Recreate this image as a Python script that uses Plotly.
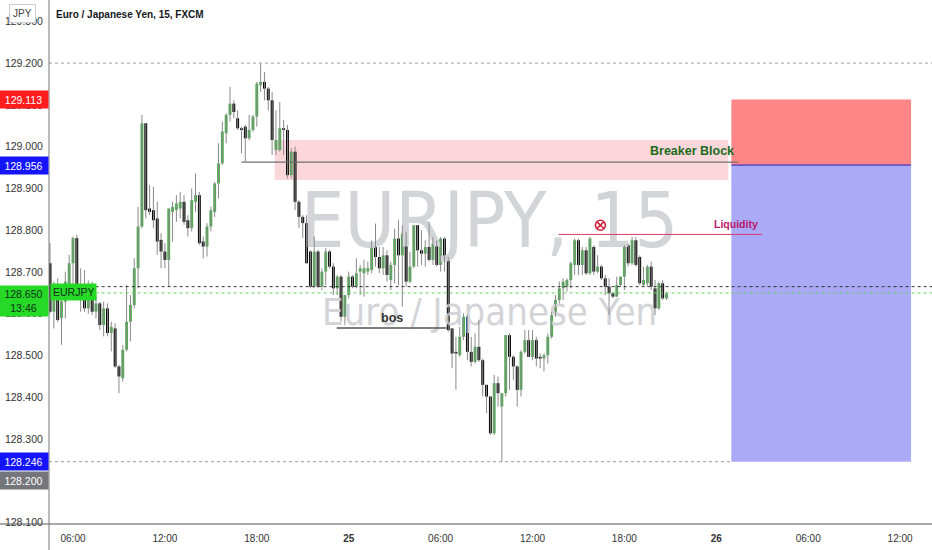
import pandas as pd
import plotly.graph_objects as go

# ---------------- data (EURJPY, 15 min, FXCM) ----------------
start_time = "2021-02-24 04:30"
opens = [128.721,128.605,128.653,128.590,128.629,128.669,128.721,128.781,128.669,128.669,
         128.613,128.669,128.605,128.625,128.573,128.613,128.554,128.565,128.474,128.446,
         128.514,128.581,128.621,128.709,128.809,129.056,128.852,128.848,128.828,128.777,
         128.749,128.729,128.844,128.848,128.852,128.868,128.824,128.805,128.868,128.884,
         128.773,128.761,128.809,128.844,128.912,128.960,129.032,129.076,129.103,129.068,
         129.044,129.048,129.020,129.040,129.072,129.147,129.155,129.139,129.111,128.992,
         128.992,129.044,129.040,128.932,128.988,128.868,128.832,128.817,128.749,128.665,
         128.749,128.665,128.701,128.749,128.713,128.661,128.689,128.593,128.645,128.689,
         128.665,128.701,128.697,128.701,128.705,128.764,128.736,128.709,128.740,128.681,
         128.717,128.780,128.740,128.792,128.677,128.713,128.812,128.752,128.744,128.760,
         128.729,128.768,128.717,128.780,128.733,128.565,128.509,128.501,128.545,128.593,
         128.509,128.485,128.521,128.489,128.430,128.402,128.314,128.434,128.378,128.410,
         128.549,128.497,128.474,128.418,128.509,128.537,128.497,128.537,128.497,128.493,
         128.501,128.545,128.597,128.633,128.661,128.665,128.681,128.717,128.776,128.717,
         128.752,128.697,128.760,128.701,128.713,128.685,128.665,128.649,128.641,128.669,
         128.689,128.764,128.721,128.776,128.736,128.669,128.673,128.713,128.661,128.613,
         128.673,128.637]
highs = [128.769,128.677,128.685,128.669,128.701,128.741,128.785,128.789,128.709,128.705,
         128.680,128.677,128.645,128.629,128.629,128.625,128.581,128.577,128.478,128.526,
         128.669,128.645,128.733,128.856,129.076,129.056,128.908,128.904,128.868,128.793,
         128.769,128.852,128.868,128.884,128.892,128.884,128.836,128.900,128.936,128.892,
         128.785,128.817,128.856,128.916,129.008,129.060,129.080,129.143,129.111,129.087,
         129.048,129.052,129.076,129.076,129.155,129.199,129.179,129.143,129.131,129.087,
         129.107,129.064,129.052,128.996,129.000,128.872,128.836,128.836,128.753,128.785,
         128.753,128.709,128.757,128.753,128.721,128.693,128.693,128.645,128.701,128.693,
         128.733,128.717,128.729,128.725,128.776,128.816,128.760,128.760,128.752,128.725,
         128.804,128.824,128.812,128.796,128.748,128.812,128.812,128.800,128.776,128.820,
         128.784,128.776,128.784,128.784,128.736,128.565,128.545,128.569,128.601,128.597,
         128.545,128.553,128.585,128.493,128.430,128.402,128.454,128.450,128.410,128.549,
         128.553,128.501,128.477,128.513,128.561,128.561,128.561,128.545,128.505,128.505,
         128.553,128.605,128.645,128.677,128.685,128.685,128.725,128.780,128.780,128.760,
         128.760,128.784,128.764,128.740,128.717,128.693,128.685,128.653,128.689,128.689,
         128.764,128.768,128.784,128.784,128.740,128.713,128.717,128.725,128.681,128.677,
         128.681,128.653]
lows = [128.601,128.565,128.581,128.526,128.589,128.645,128.669,128.661,128.605,128.605,
        128.600,128.597,128.589,128.561,128.546,128.546,128.510,128.470,128.410,128.438,
        128.510,128.534,128.613,128.661,128.805,128.828,128.836,128.805,128.741,128.709,
        128.709,128.665,128.773,128.820,128.828,128.813,128.785,128.797,128.844,128.765,
        128.733,128.737,128.797,128.832,128.876,128.956,129.008,129.060,129.068,129.040,
        128.984,128.964,129.016,129.036,129.048,129.131,129.111,129.087,128.980,128.980,
        128.988,128.980,128.924,128.924,128.848,128.805,128.781,128.721,128.661,128.661,
        128.661,128.657,128.669,128.709,128.645,128.645,128.581,128.573,128.637,128.661,
        128.661,128.645,128.641,128.693,128.697,128.713,128.697,128.693,128.677,128.657,
        128.673,128.669,128.617,128.665,128.673,128.709,128.713,128.717,128.713,128.725,
        128.717,128.713,128.701,128.701,128.557,128.470,128.418,128.497,128.537,128.489,
        128.474,128.481,128.485,128.402,128.362,128.310,128.310,128.378,128.246,128.402,
        128.418,128.442,128.378,128.402,128.505,128.497,128.489,128.474,128.470,128.462,
        128.481,128.541,128.593,128.625,128.633,128.653,128.661,128.693,128.693,128.693,
        128.693,128.693,128.693,128.697,128.681,128.645,128.597,128.637,128.641,128.665,
        128.657,128.713,128.717,128.713,128.669,128.665,128.665,128.657,128.597,128.609,
        128.633,128.633]
closes = [128.605,128.660,128.585,128.630,128.677,128.721,128.781,128.669,128.645,128.613,
          128.655,128.605,128.625,128.573,128.613,128.554,128.569,128.474,128.450,128.514,
          128.581,128.621,128.709,128.809,129.056,128.848,128.844,128.824,128.773,128.749,
          128.729,128.852,128.856,128.864,128.868,128.820,128.805,128.872,128.884,128.769,
          128.761,128.809,128.848,128.912,128.960,129.036,129.076,129.103,129.083,129.044,
          129.040,129.020,129.040,129.072,129.151,129.155,129.139,129.111,129.016,129.016,
          129.044,129.040,128.932,128.988,128.868,128.832,128.817,128.721,128.665,128.749,
          128.665,128.701,128.749,128.713,128.661,128.689,128.593,128.645,128.689,128.665,
          128.697,128.709,128.709,128.709,128.764,128.736,128.709,128.740,128.693,128.717,
          128.780,128.740,128.792,128.677,128.713,128.812,128.752,128.744,128.760,128.729,
          128.768,128.717,128.780,128.733,128.561,128.505,128.505,128.545,128.593,128.509,
          128.485,128.521,128.489,128.430,128.402,128.314,128.434,128.410,128.410,128.549,
          128.497,128.474,128.418,128.509,128.537,128.497,128.537,128.493,128.493,128.501,
          128.545,128.597,128.633,128.661,128.677,128.681,128.721,128.776,128.717,128.752,
          128.697,128.780,128.701,128.713,128.685,128.665,128.649,128.641,128.669,128.689,
          128.764,128.721,128.776,128.717,128.673,128.681,128.713,128.665,128.613,128.673,
          128.637,128.649]

# axis ticks
x_tick_times = ["2021-02-24 06:00","2021-02-24 12:00","2021-02-24 18:00","2021-02-25 00:00",
                "2021-02-25 06:00","2021-02-25 12:00","2021-02-25 18:00","2021-02-26 00:00",
                "2021-02-26 06:00","2021-02-26 12:00"]
x_tick_labels = ["06:00","12:00","18:00","<b>25</b>","06:00","12:00","18:00","<b>26</b>","06:00","12:00"]
y_ticks = [128.1,128.2,128.3,128.4,128.5,128.6,128.7,128.8,128.9,129.0,129.1,129.2,129.3]
y_tick_labels = ["%.3f" % v for v in y_ticks]
x_range = ["2021-02-24 04:26", "2021-02-26 14:05"]
y_range = [128.097, 129.351]

# drawings
breaker_zone = {"t0": "2021-02-24 19:10", "t1": "2021-02-26 00:47", "p0": 128.920, "p1": 129.016}
breaker_line = {"t0": "2021-02-24 17:00", "t1": "2021-02-26 01:26", "p": 128.963}
position = {"t0": "2021-02-26 00:59", "t1": "2021-02-26 12:43", "entry": 128.956, "stop": 129.113, "target": 128.246}
liquidity_line = {"t0": "2021-02-25 13:42", "t1": "2021-02-26 03:00", "p": 128.790}
liquidity_mark = {"t": "2021-02-25 16:26", "p": 128.812}
bos_line = {"t0": "2021-02-24 23:13", "t1": "2021-02-25 06:23", "p": 128.566}
high_line_price = 129.200
prev_close_price = 128.665
last_price = 128.650
crosshair_price = 128.200
countdown = "13:46"
watermark_pos = {"t": "2021-02-25 09:12", "p1": 128.806, "p2": 128.595}

# ---------------- figure ----------------
times = pd.date_range(start_time, periods=len(opens), freq="15min")
GREEN = "#4caf50"
WICK = "#8a8a8a"
WM_FONT = "DejaVu Sans Condensed, Liberation Sans Narrow, Roboto Condensed, Arial Narrow, sans-serif"

fig = go.Figure()

# watermark (behind candles)
fig.add_trace(go.Scatter(x=[pd.Timestamp(watermark_pos["t"])], y=[watermark_pos["p1"]], mode="text",
                         text=["EURJPY, 15"], textposition="middle center",
                         textfont=dict(family=WM_FONT, size=77, color="#d3d4d8"),
                         hoverinfo="skip"))
fig.add_trace(go.Scatter(x=[pd.Timestamp(watermark_pos["t"])], y=[watermark_pos["p2"]], mode="text",
                         text=["Euro / Japanese Yen"], textposition="middle center",
                         textfont=dict(family=WM_FONT, size=38, color="#d3d4d8"),
                         hoverinfo="skip"))

# wicks
wx, wy = [], []
for t, h, l in zip(times, highs, lows):
    wx += [t, t, None]
    wy += [l, h, None]
fig.add_trace(go.Scatter(x=wx, y=wy, mode="lines", line=dict(color=WICK, width=1), hoverinfo="skip"))

# bodies
def bodies(up):
    xs, bases, hs = [], [], []
    for t, o, c in zip(times, opens, closes):
        if (c >= o) == up:
            xs.append(t)
            bases.append(min(o, c))
            hs.append(max(abs(c - o), 0.0025))
    return xs, bases, hs

for up, col in [(True, GREEN), (False, "#000000")]:
    xs, bases, hs = bodies(up)
    fig.add_trace(go.Bar(x=xs, y=hs, base=bases, width=680000, marker=dict(color=col, line=dict(width=0)),
                         hoverinfo="skip"))

# liquidity marker
fig.add_trace(go.Scatter(x=[pd.Timestamp(liquidity_mark["t"])], y=[liquidity_mark["p"]], mode="markers",
                         marker=dict(symbol="circle-x-open", size=10, color="#d0203a", line=dict(width=1.6)),
                         hoverinfo="skip"))

shapes = []
shapes.append(dict(type="rect", xref="x", yref="y", layer="below",
                   x0=breaker_zone["t0"], x1=breaker_zone["t1"], y0=breaker_zone["p0"], y1=breaker_zone["p1"],
                   fillcolor="rgba(248,180,190,0.55)", line=dict(width=0)))
shapes.append(dict(type="rect", xref="x", yref="y", layer="below",
                   x0=position["t0"], x1=position["t1"], y0=position["entry"], y1=position["stop"],
                   fillcolor="#ff8686", line=dict(width=0)))
shapes.append(dict(type="rect", xref="x", yref="y", layer="below",
                   x0=position["t0"], x1=position["t1"], y0=position["target"], y1=position["entry"],
                   fillcolor="#aaaaf7", line=dict(width=0)))
shapes.append(dict(type="line", xref="x", yref="y",
                   x0=position["t0"], x1=position["t1"], y0=position["entry"], y1=position["entry"],
                   line=dict(color="#2020c8", width=1)))
shapes.append(dict(type="line", xref="x", yref="y",
                   x0=breaker_line["t0"], x1=breaker_line["t1"], y0=breaker_line["p"], y1=breaker_line["p"],
                   line=dict(color="#6e6e6e", width=1.2)))
shapes.append(dict(type="line", xref="x", yref="y",
                   x0=liquidity_line["t0"], x1=liquidity_line["t1"], y0=liquidity_line["p"], y1=liquidity_line["p"],
                   line=dict(color="#d83a6a", width=1)))
shapes.append(dict(type="line", xref="x", yref="y",
                   x0=bos_line["t0"], x1=bos_line["t1"], y0=bos_line["p"], y1=bos_line["p"],
                   line=dict(color="#555555", width=1.3)))
shapes.append(dict(type="line", xref="paper", yref="y", x0=0, x1=1, y0=high_line_price, y1=high_line_price,
                   line=dict(color="#9a9a9a", width=1, dash="dot")))
shapes.append(dict(type="line", xref="paper", yref="y", x0=0.046, x1=1, y0=prev_close_price, y1=prev_close_price,
                   line=dict(color="#333333", width=1, dash="dot")))
shapes.append(dict(type="line", xref="paper", yref="y", x0=0.046, x1=1, y0=last_price, y1=last_price,
                   line=dict(color="#5fd35f", width=1, dash="dot")))
shapes.append(dict(type="line", xref="x", yref="y", x0=x_range[0], x1=position["t0"],
                   y0=position["target"], y1=position["target"],
                   line=dict(color="#9a9a9a", width=1, dash="dot")))
shapes.append(dict(type="line", xref="paper", yref="paper", x0=-49/883, x1=1, y0=0, y1=0,
                   line=dict(color="#555555", width=1)))
shapes.append(dict(type="line", xref="paper", yref="paper", x0=0, x1=0, y0=-26/524, y1=1,
                   line=dict(color="#777777", width=1)))

FONT = "Liberation Sans"
annotations = []
annotations.append(dict(xref="paper", yref="paper", x=0, y=1, xanchor="left", yanchor="top",
                        xshift=5, yshift=-7, showarrow=False,
                        text="Euro / Japanese Yen, 15, FXCM",
                        font=dict(family=FONT, size=10, color="#131722", weight=600)))
annotations.append(dict(xref="paper", yref="paper", x=0, y=1, xanchor="right", yanchor="top",
                        xshift=-13, yshift=-4, showarrow=False, text="JPY",
                        font=dict(family=FONT, size=10, color="#444"), bgcolor="white",
                        bordercolor="#cccccc", borderwidth=1, borderpad=3))
annotations.append(dict(xref="x", yref="y", x=pd.Timestamp("2021-02-25 22:26"), y=128.989, showarrow=False,
                        text="<b>Breaker Block</b>", font=dict(family=FONT, size=12.5, color="#1b6b1b")))
annotations.append(dict(xref="x", yref="y", x=pd.Timestamp("2021-02-26 01:18"), y=128.815, showarrow=False,
                        text="<b>Liquidity</b>", font=dict(family=FONT, size=10.5, color="#b8186a")))
annotations.append(dict(xref="x", yref="y", x=pd.Timestamp("2021-02-25 02:48"), y=128.590, showarrow=False,
                        text="<b>bos</b>", font=dict(family=FONT, size=12.5, color="#333333")))

def axis_label(price, text, bg, fg, h=13):
    return dict(xref="paper", yref="y", x=0, y=price, xanchor="right", yanchor="middle",
                showarrow=False, text=text, bgcolor=bg, width=45, height=h, borderpad=2,
                align="center", font=dict(family=FONT, size=10.5, color=fg))

annotations.append(axis_label(position["stop"], "129.113", "#ff1c1c", "white"))
annotations.append(axis_label(position["entry"], "128.956", "#1414ff", "white"))
annotations.append(axis_label(position["target"], "128.246", "#1414ff", "white"))
annotations.append(axis_label(crosshair_price, "128.200", "#75767c", "white"))
lbl = axis_label(last_price, "%.3f<br>%s" % (last_price, countdown), "#26d926", "#10301a", h=26)
lbl["yanchor"] = "top"
lbl["yshift"] = 8
annotations.append(lbl)
annotations.append(dict(xref="paper", yref="y", x=0, y=last_price, xanchor="left", yanchor="middle",
                        xshift=1, yshift=1, showarrow=False, text="EURJPY", bgcolor="#26d926",
                        borderpad=2, font=dict(family=FONT, size=10.5, color="#10301a")))

fig.update_layout(
    width=932, height=550,
    margin=dict(l=49, r=0, t=0, b=26),
    paper_bgcolor="white", plot_bgcolor="white",
    showlegend=False, barmode="overlay", hovermode=False,
    shapes=shapes, annotations=annotations,
    xaxis=dict(type="date", range=x_range, showgrid=False, zeroline=False, automargin=False,
               tickmode="array", tickvals=x_tick_times, ticktext=x_tick_labels,
               ticks="outside", ticklen=5, tickcolor="rgba(0,0,0,0)",
               tickfont=dict(family=FONT, size=10, color="#333333"), showline=False),
    yaxis=dict(range=y_range, showgrid=False, zeroline=False, automargin=False,
               tickmode="array", tickvals=y_ticks, ticktext=y_tick_labels,
               ticks="outside", ticklen=3, tickcolor="rgba(0,0,0,0)",
               tickfont=dict(family=FONT, size=10.5, color="#333333"), showline=False),
)

fig.write_html("out.html", config={"displayModeBar": False, "staticPlot": True},
               post_script="document.body.style.margin='0';document.body.style.overflow='hidden';")
